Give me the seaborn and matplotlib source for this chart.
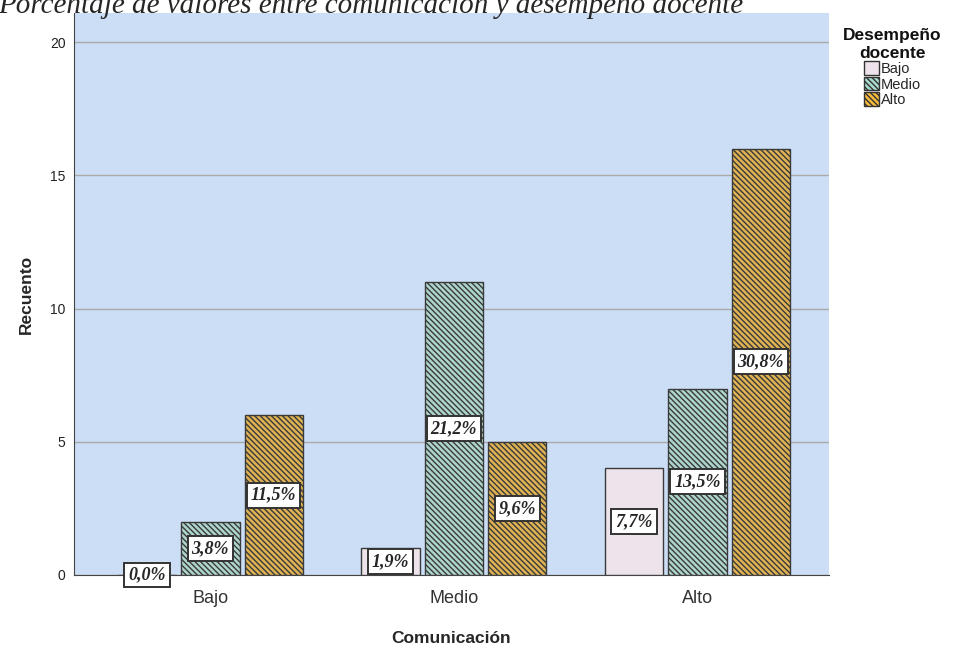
import matplotlib as mpl
import matplotlib.pyplot as plt
import pandas as pd
import seaborn as sns
from matplotlib.patches import Patch

comunicacion = ["Bajo", "Medio", "Alto"]
desempeno = ["Bajo", "Medio", "Alto"]
# recuentos por nivel de comunicación (filas) y desempeño docente (columnas)
recuento = [
    [0, 2, 6],
    [1, 11, 5],
    [4, 7, 16],
]
porcentaje = [
    ["0,0%", "3,8%", "11,5%"],
    ["1,9%", "21,2%", "9,6%"],
    ["7,7%", "13,5%", "30,8%"],
]
colores = {"Bajo": "#EEE2EC", "Medio": "#A8DBCF", "Alto": "#F6BA3C"}
tramas = {"Bajo": "", "Medio": "\\\\\\\\\\\\", "Alto": "\\\\\\\\\\\\"}

rows = []
for i, c in enumerate(comunicacion):
    for j, d in enumerate(desempeno):
        rows.append({"Comunicación": c, "Desempeño": d, "Recuento": recuento[i][j],
                     "pct": porcentaje[i][j]})
df = pd.DataFrame(rows)

sns.set_style("white")
mpl.rcParams["font.family"] = ["Liberation Sans", "DejaVu Sans"]
mpl.rcParams["hatch.linewidth"] = 1.0
mpl.rcParams["hatch.color"] = "#222222"

fig = plt.figure(figsize=(9.63, 6.48), dpi=100)
ax = fig.add_axes([74 / 963, 1 - 575 / 648, (829 - 74) / 963, (575 - 13) / 648])
ax.set_facecolor("#CCDEF6")

sns.barplot(
    data=df, x="Comunicación", y="Recuento", hue="Desempeño",
    order=comunicacion, hue_order=desempeno, palette=colores,
    width=0.78, gap=0.08, edgecolor="#333333", linewidth=1.0,
    legend=False, ax=ax, zorder=3,
)

for d, cont in zip(desempeno, ax.containers):
    for bar in cont:
        bar.set_hatch(tramas[d])
        bar.set_edgecolor("#3a3a3a")

# etiquetas de porcentaje en el centro de cada barra
for j, cont in enumerate(ax.containers):
    for i, bar in enumerate(cont):
        h = bar.get_height()
        ax.text(
            bar.get_x() + bar.get_width() / 2, h / 2, porcentaje[i][j],
            ha="center", va="center", fontsize=13, fontweight="bold",
            fontstyle="italic", family=["Liberation Serif", "DejaVu Serif"],
            zorder=5,
            bbox=dict(boxstyle="square,pad=0.22", fc="white", ec="#333333", lw=1.4),
        )

ax.set_ylim(0, 21.1)
ax.set_xlim(-0.56, 2.54)
ax.set_yticks([0, 5, 10, 15, 20])
ax.yaxis.grid(True, color="#AAAAAA", linewidth=1, zorder=0)
ax.set_axisbelow(True)
ax.tick_params(axis="x", length=0, labelsize=13, pad=11, colors="#333333")
ax.tick_params(axis="y", length=0, labelsize=10, pad=6, colors="#222222")
for s in ["top", "right"]:
    ax.spines[s].set_visible(False)
ax.spines["left"].set_color("#444444")
ax.spines["bottom"].set_color("#444444")
ax.set_xlabel("Comunicación", fontsize=12.5, fontweight="bold", labelpad=17)
ax.set_ylabel("Recuento", fontsize=12.5, fontweight="bold", labelpad=12)

handles = [Patch(facecolor=colores[d], edgecolor="#333333", hatch=tramas[d], label=d)
           for d in desempeno]
leg = fig.legend(
    handles=handles, title="Desempeño\ndocente", loc="upper left",
    bbox_to_anchor=(833 / 963, 1 - 18 / 648), frameon=False, fontsize=10.5,
    title_fontproperties={"weight": "bold", "size": 12.5},
    handlelength=1.05, handleheight=1.05, handletextpad=0.15, labelspacing=0.05,
    borderpad=0.2,
)
leg._legend_box.align = "center"
leg.get_title().set_multialignment("center")
leg.get_title().set_color("#111111")

fig.text(-2 / 963, 1 - 13 / 648,
         "Porcentaje de valores entre comunicación y desempeño docente",
         ha="left", va="baseline", fontsize=21, fontstyle="italic",
         family=["Liberation Serif", "DejaVu Serif"])

fig.savefig("out.png", dpi=100)
